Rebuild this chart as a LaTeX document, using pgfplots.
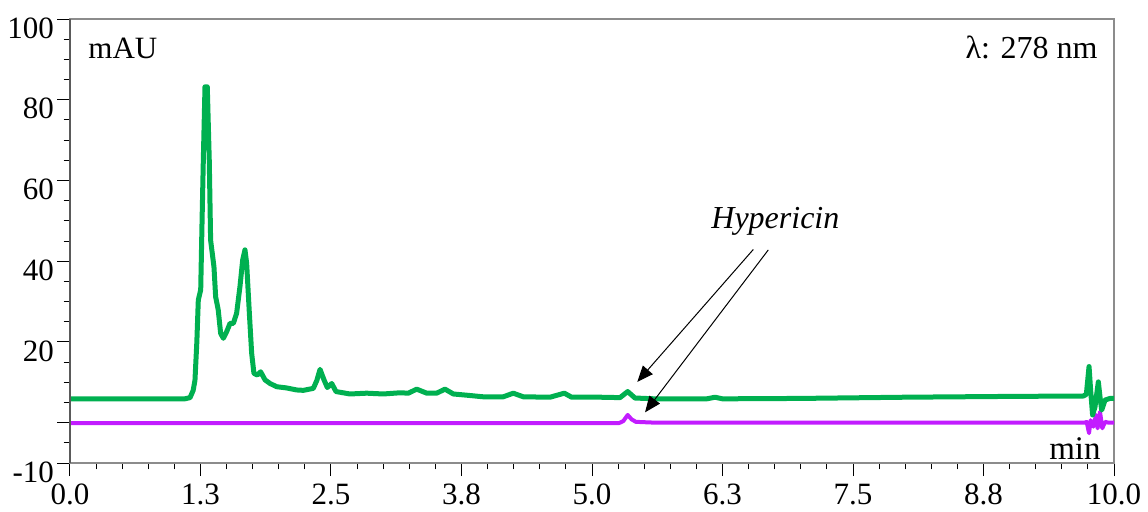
\documentclass[border=0pt]{standalone}
\usepackage{fontspec}
\setmainfont{Liberation Serif}
\usepackage{pgfplots}
\pgfplotsset{compat=1.18}
\usetikzlibrary{arrows.meta}

\definecolor{tracegreen}{HTML}{00B050}
\definecolor{tracepurple}{HTML}{C21CFF}
\definecolor{framegray}{HTML}{8C8C8C}
\definecolor{leftgray}{HTML}{5A5A5A}

% Chromatogram trace at 278 nm (sample)
\pgfplotstableread{
t v
0.000 5.9
1.100 5.9
1.150 6.2
1.180 8.0
1.197 10.5
1.215 20.0
1.229 30.4
1.252 32.9
1.265 50.0
1.277 65.0
1.293 83.2
1.315 83.2
1.334 65.0
1.347 45.2
1.379 38.6
1.395 31.2
1.420 27.9
1.443 22.1
1.469 20.9
1.500 22.5
1.533 24.6
1.565 24.6
1.596 27.1
1.628 33.7
1.654 40.3
1.676 42.8
1.692 39.5
1.718 27.1
1.740 17.2
1.762 12.2
1.794 11.8
1.826 12.6
1.868 10.6
1.916 9.7
1.980 8.9
2.075 8.6
2.170 8.1
2.235 8.0
2.331 8.5
2.365 10.5
2.395 13.2
2.433 10.6
2.465 8.7
2.507 9.7
2.548 7.7
2.682 7.1
2.842 7.3
3.001 7.1
3.161 7.4
3.241 7.3
3.321 8.3
3.417 7.3
3.512 7.3
3.592 8.3
3.672 7.1
3.800 6.8
3.959 6.4
4.150 6.4
4.246 7.3
4.342 6.4
4.598 6.3
4.735 7.3
4.805 6.3
5.077 6.3
5.268 6.2
5.342 7.7
5.412 6.1
5.600 5.9
6.100 5.9
6.178 6.3
6.250 5.9
7.000 6.0
8.000 6.3
9.000 6.5
9.706 6.6
9.735 7.0
9.761 13.9
9.776 8.1
9.795 1.9
9.818 3.9
9.850 10.1
9.866 6.4
9.882 3.1
9.914 5.6
9.962 6.0
10.000 6.0
}\sampletrace

% Chromatogram trace at 278 nm (standard)
\pgfplotstableread{
t v
0.000 -0.1
5.260 -0.1
5.300 0.4
5.342 1.9
5.380 0.8
5.420 0.2
5.600 0.0
9.720 0.0
9.738 0.2
9.761 -2.6
9.776 0.6
9.802 -1.0
9.828 1.9
9.843 -1.4
9.866 2.7
9.888 -1.4
9.914 0.2
9.946 0.0
10.000 0.0
}\standardtrace

\begin{document}
\begin{tikzpicture}
\path[use as bounding box] (-35pt,-24pt) rectangle (539pt,231.5pt);
\begin{axis}[
  at={(0,0)}, anchor=south west,
  scale only axis, width=522pt, height=222pt,
  xmin=0, xmax=10, ymin=-10, ymax=100,
  axis line style={framegray, line width=0.6pt},
  tick style={black, line width=0.5pt},
  tick align=outside,
  xtick pos=bottom, ytick pos=left,
  major tick length=6.5pt, minor tick length=3.2pt,
  xtick={0,1.25,2.5,3.75,5,6.25,7.5,8.75,10},
  xticklabels={0.0,1.3,2.5,3.8,5.0,6.3,7.5,8.8,10.0},
  minor x tick num=4,
  ytick={-10,0,20,40,60,80,100},
  yticklabels={-10,,20,40,60,80,100},
  minor ytick={-5,5,10,15,25,30,35,45,50,55,65,70,75,85,90,95},
  tick label style={font=\fontsize{15.5}{18}\selectfont},
  yticklabel style={yshift=-4.5pt, xshift=2pt},
  xticklabel style={yshift=-0.5pt},
  clip=false,
]
\addplot[tracepurple, line width=2pt, line join=round] table[x=t,y=v] {\standardtrace};
\addplot[tracegreen, line width=2.5pt, line join=round] table[x=t,y=v] {\sampletrace};

% darker left spine
\draw[leftgray, line width=0.6pt] (rel axis cs:0,0) -- (rel axis cs:0,1);

\node[anchor=base west, inner sep=0pt, font=\fontsize{15.5}{18}\selectfont]
  at ([xshift=9pt,yshift=-19.5pt]rel axis cs:0,1) {mAU};
\node[anchor=base east, inner sep=0pt, font=\fontsize{16}{19}\selectfont]
  at ([xshift=-8pt,yshift=-19.5pt]rel axis cs:1,1) {λ: 278 nm};
\node[anchor=base east, inner sep=0pt, font=\fontsize{16.5}{19}\selectfont]
  at ([xshift=-6.5pt,yshift=2pt]rel axis cs:1,0) {min};

\node[anchor=base west, inner sep=0pt, font=\fontsize{16}{19}\selectfont\itshape]
  at (axis cs:6.14,48.2) {Hypericin};
\draw[line width=0.5pt, -{Triangle[length=8pt,width=6.5pt]}]
  (axis cs:6.545,42.9) -- (axis cs:5.434,10.1);
\draw[line width=0.5pt, -{Triangle[length=8pt,width=6.5pt]}]
  (axis cs:6.689,42.8) -- (axis cs:5.508,2.55);
\end{axis}
\end{tikzpicture}
\end{document}
